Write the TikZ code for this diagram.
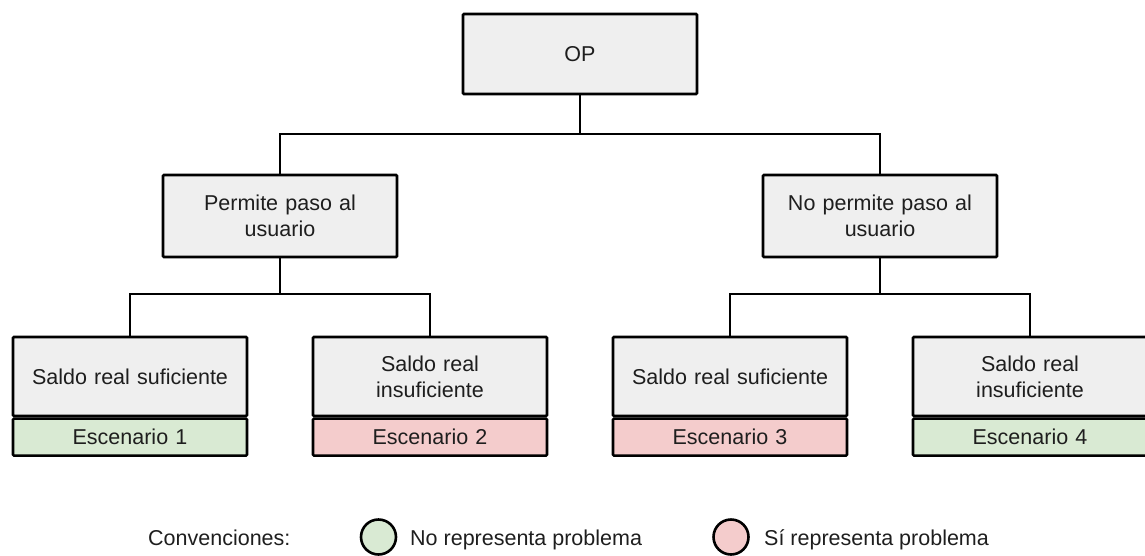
\documentclass[tikz,border=0pt]{standalone}
\usepackage{fontspec}
\setmainfont{Liberation Sans}
\definecolor{boxgray}{HTML}{EFEFEF}
\definecolor{okgreen}{HTML}{D9EAD3}
\definecolor{badred}{HTML}{F4CCCC}
\definecolor{ink}{HTML}{1E1E1E}
\begin{document}
\begin{tikzpicture}[x=1pt,y=-1pt,
  every node/.style={font=\fontsize{21.5}{26}\selectfont, text=ink},
  card/.style={draw=black, line width=2.6pt, fill=boxgray, rounded corners=1pt,
    minimum width=234pt, align=center, inner sep=0pt, text width=212pt},
  topcard/.style={card, minimum height=80pt},
  midcard/.style={card, minimum height=82pt},
  leafcard/.style={card, minimum height=79pt},
  band/.style={card, minimum height=37pt},
  link/.style={draw=black, line width=2.6pt},
  swatch/.style={circle, draw=black, line width=2.6pt, minimum size=35pt, inner sep=0pt}
]
\useasboundingbox (0,0) rectangle (1145,555);

% root
\node[topcard] (op) at (580,54) {OP};

% first level
\node[midcard] (perm) at (280,216) {Permite paso al\\usuario};
\node[midcard] (noperm) at (880,216) {No permite paso al\\usuario};

% leaves with their scenario bands
\node[leafcard] (l1) at (130,376.5) {Saldo real suficiente};
\node[leafcard] (l2) at (430,376.5) {Saldo real\\insuficiente};
\node[leafcard] (l3) at (730,376.5) {Saldo real suficiente};
\node[leafcard] (l4) at (1030,376.5) {Saldo real\\insuficiente};

\node[band, fill=okgreen, anchor=north] (e1) at (l1.south) {Escenario 1};
\node[band, fill=badred,  anchor=north] (e2) at (l2.south) {Escenario 2};
\node[band, fill=badred,  anchor=north] (e3) at (l3.south) {Escenario 3};
\node[band, fill=okgreen, anchor=north] (e4) at (l4.south) {Escenario 4};

% junctions of the elbow connectors
\coordinate (j0) at (580,134);
\coordinate (j1) at (280,294);
\coordinate (j2) at (880,294);

\draw[link] (op.south) -- (j0);
\draw[link] (j0) -| (perm.north);
\draw[link] (j0) -| (noperm.north);
\draw[link] (perm.south) -- (j1);
\draw[link] (j1) -| (l1.north);
\draw[link] (j1) -| (l2.north);
\draw[link] (noperm.south) -- (j2);
\draw[link] (j2) -| (l3.north);
\draw[link] (j2) -| (l4.north);

% legend
\node[anchor=base west, inner sep=0pt] (conv) at (148,545) {Convenciones:};
\node[swatch, fill=okgreen] (sw1) at (378.5,537) {};
\node[anchor=base west, inner sep=0pt] (t1) at (410,545) {No representa problema};
\node[swatch, fill=badred] (sw2) at (731,537) {};
\node[anchor=base west, inner sep=0pt] (t2) at (764,545) {Sí representa problema};
\end{tikzpicture}
\end{document}
